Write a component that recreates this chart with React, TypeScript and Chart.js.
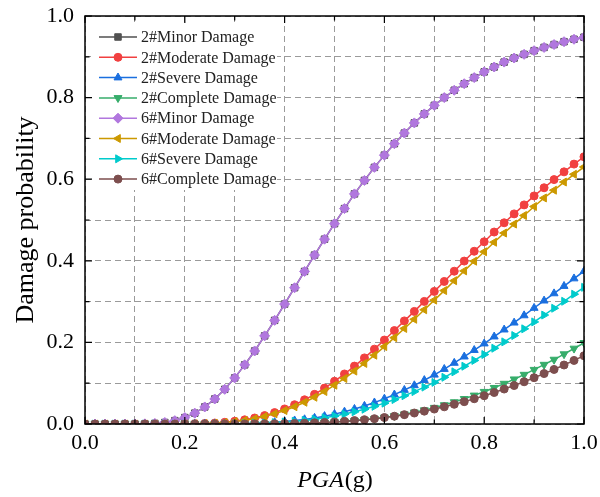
import React, { useEffect, useRef } from "react";
import { Chart, registerables } from "chart.js";
import { drawPoint } from "chart.js/helpers";

Chart.register(...registerables);

const pga = [0, 0.02, 0.04, 0.06, 0.08, 0.1, 0.12, 0.14, 0.16, 0.18, 0.2, 0.22, 0.24, 0.26, 0.28, 0.3, 0.32, 0.34, 0.36, 0.38, 0.4, 0.42, 0.44, 0.46, 0.48, 0.5, 0.52, 0.54, 0.56, 0.58, 0.6, 0.62, 0.64, 0.66, 0.68, 0.7, 0.72, 0.74, 0.76, 0.78, 0.8, 0.82, 0.84, 0.86, 0.88, 0.9, 0.92, 0.94, 0.96, 0.98, 1.0];

const minor2 = [0, 0, 0, 0, 0, 0.0001, 0.0004, 0.0014, 0.0037, 0.0082, 0.0157, 0.0266, 0.0418, 0.0613, 0.085, 0.113, 0.145, 0.179, 0.216, 0.254, 0.294, 0.334, 0.374, 0.414, 0.453, 0.491, 0.528, 0.564, 0.597, 0.629, 0.659, 0.687, 0.713, 0.738, 0.76, 0.781, 0.8, 0.818, 0.834, 0.849, 0.863, 0.875, 0.887, 0.897, 0.906, 0.915, 0.923, 0.93, 0.937, 0.943, 0.948];
const moderate2 = [0, 0, 0, 0, 0, 0, 0, 0, 0, 0.0001, 0.0003, 0.0007, 0.0013, 0.0024, 0.0041, 0.0067, 0.0102, 0.0147, 0.0206, 0.0279, 0.0369, 0.0472, 0.0593, 0.0727, 0.088, 0.1047, 0.1226, 0.1419, 0.162, 0.1835, 0.2058, 0.229, 0.2527, 0.276, 0.3005, 0.325, 0.3494, 0.3745, 0.3993, 0.4234, 0.4467, 0.4705, 0.4932, 0.515, 0.537, 0.559, 0.579, 0.599, 0.618, 0.637, 0.655];
const severe2 = [0, 0, 0, 0, 0, 0, 0, 0, 0, 0, 0, 0, 0.0001, 0.0002, 0.0004, 0.0007, 0.0012, 0.0019, 0.0029, 0.0043, 0.0061, 0.0084, 0.0113, 0.0148, 0.0191, 0.0242, 0.03, 0.0367, 0.0442, 0.0525, 0.0619, 0.072, 0.0832, 0.0946, 0.1073, 0.1206, 0.1346, 0.1496, 0.165, 0.181, 0.197, 0.2141, 0.2312, 0.2482, 0.266, 0.2843, 0.3022, 0.3199, 0.338, 0.3565, 0.3745];
const complete2 = [0, 0, 0, 0, 0, 0, 0, 0, 0, 0, 0, 0, 0, 0, 0, 0, 0.0001, 0.0002, 0.0003, 0.0005, 0.0008, 0.0012, 0.0017, 0.0024, 0.0034, 0.0046, 0.0061, 0.008, 0.0103, 0.0129, 0.0161, 0.0198, 0.024, 0.0287, 0.034, 0.04, 0.0465, 0.0538, 0.0617, 0.0701, 0.0791, 0.0888, 0.099, 0.1097, 0.121, 0.1331, 0.1455, 0.158, 0.1713, 0.1851, 0.199];
const minor6 = [0, 0, 0, 0, 0, 0.0001, 0.0004, 0.0014, 0.0037, 0.0082, 0.0157, 0.0266, 0.0418, 0.0613, 0.085, 0.113, 0.145, 0.179, 0.216, 0.254, 0.294, 0.334, 0.374, 0.414, 0.453, 0.491, 0.528, 0.564, 0.597, 0.629, 0.659, 0.687, 0.713, 0.738, 0.76, 0.781, 0.8, 0.818, 0.834, 0.849, 0.863, 0.875, 0.887, 0.897, 0.906, 0.915, 0.923, 0.93, 0.937, 0.943, 0.948];
const moderate6 = [0, 0, 0, 0, 0, 0, 0, 0, 0, 0.0001, 0.0003, 0.0006, 0.0011, 0.0021, 0.0036, 0.0059, 0.009, 0.013, 0.0183, 0.0249, 0.033, 0.0423, 0.0533, 0.0656, 0.0796, 0.0951, 0.1116, 0.1297, 0.1485, 0.1686, 0.1897, 0.2116, 0.2342, 0.2566, 0.28, 0.3036, 0.327, 0.3512, 0.3753, 0.399, 0.422, 0.4455, 0.468, 0.49, 0.511, 0.533, 0.554, 0.573, 0.593, 0.612, 0.63];
const severe6 = [0, 0, 0, 0, 0, 0, 0, 0, 0, 0, 0, 0, 0, 0.0002, 0.0003, 0.0005, 0.0009, 0.0015, 0.0022, 0.0033, 0.0048, 0.0066, 0.009, 0.0118, 0.0153, 0.0195, 0.0243, 0.0299, 0.0362, 0.0433, 0.0511, 0.0599, 0.0694, 0.0794, 0.0904, 0.102, 0.1145, 0.1278, 0.1416, 0.1558, 0.1703, 0.1857, 0.2013, 0.2168, 0.2333, 0.2502, 0.267, 0.2837, 0.3008, 0.3181, 0.335];
const complete6 = [0, 0, 0, 0, 0, 0, 0, 0, 0, 0, 0, 0, 0, 0, 0, 0.0001, 0.0002, 0.0003, 0.0004, 0.0007, 0.001, 0.0015, 0.0021, 0.0029, 0.0039, 0.0051, 0.0066, 0.0084, 0.0105, 0.013, 0.0159, 0.0191, 0.0229, 0.0269, 0.0315, 0.0366, 0.0421, 0.0483, 0.0548, 0.0619, 0.0693, 0.0772, 0.0857, 0.0943, 0.1035, 0.1135, 0.1236, 0.1337, 0.1446, 0.1558, 0.1673];

const seriesNames = [
  "2#Minor Damage",
  "2#Moderate Damage",
  "2#Severe Damage",
  "2#Complete Damage",
  "6#Minor Damage",
  "6#Moderate Damage",
  "6#Severe Damage",
  "6#Complete Damage",
];
const seriesValues = [minor2, moderate2, severe2, complete2, minor6, moderate6, severe6, complete6];
const seriesColors = ["#515151", "#F14040", "#1A6FDF", "#37AD6B", "#B177DE", "#CC9900", "#00CBCC", "#7D4E4E"];
const seriesStyles = ["rect", "circle", "triangle", "triangle", "rectRot", "triangle", "triangle", "circle"];
const seriesRotations = [0, 0, 0, 180, 0, 270, 90, 0];
const seriesRadii = [4.6, 4, 4.6, 4.6, 5, 4.6, 4.6, 4];

const xTicks = [0, 0.1, 0.2, 0.3, 0.4, 0.5, 0.6, 0.7, 0.8, 0.9, 1.0];
const yTicks = [0, 0.1, 0.2, 0.3, 0.4, 0.5, 0.6, 0.7, 0.8, 0.9, 1.0];

const SERIF = "'Liberation Serif', 'Times New Roman', serif";

const decorPlugin = {
  id: "decor",
  afterDatasetsDraw(chart: any) {
    const ctx = chart.ctx;
    const { left, right, top, bottom } = chart.chartArea;
    const xs = chart.scales.x;
    const ys = chart.scales.y;
    ctx.save();

    // legend background (white, no border)
    ctx.fillStyle = "#ffffff";
    ctx.fillRect(left + 6, top + 8, 186, 166);

    // legend entries
    ctx.font = `16px ${SERIF}`;
    ctx.textBaseline = "middle";
    ctx.textAlign = "left";
    chart.data.datasets.forEach((ds: any, i: number) => {
      const cy = top + 21 + i * 20.3;
      ctx.strokeStyle = ds.borderColor;
      ctx.lineWidth = 1.5;
      ctx.setLineDash([]);
      ctx.beginPath();
      ctx.moveTo(left + 14, cy);
      ctx.lineTo(left + 52, cy);
      ctx.stroke();
      ctx.fillStyle = ds.backgroundColor;
      ctx.strokeStyle = ds.borderColor;
      ctx.lineWidth = 1;
      drawPoint(ctx, { pointStyle: ds.pointStyle, rotation: ds.pointRotation, radius: ds.pointRadius, borderWidth: 1 }, left + 33, cy);
      ctx.fillStyle = "#222222";
      ctx.fillText(seriesNames[i], left + 56, cy + 1);
    });

    // frame
    ctx.strokeStyle = "#000000";
    ctx.lineWidth = 1.5;
    ctx.setLineDash([]);
    ctx.strokeRect(left, top, right - left, bottom - top);

    // inward ticks
    ctx.lineWidth = 1.2;
    xTicks.forEach((v, i) => {
      const px = xs.getPixelForValue(v);
      const len = i % 2 === 0 ? 7 : 4.5;
      ctx.beginPath();
      ctx.moveTo(px, bottom);
      ctx.lineTo(px, bottom - len);
      ctx.moveTo(px, top);
      ctx.lineTo(px, top + len);
      ctx.stroke();
    });
    yTicks.forEach((v, i) => {
      const py = ys.getPixelForValue(v);
      const len = i % 2 === 0 ? 7 : 4.5;
      ctx.beginPath();
      ctx.moveTo(left, py);
      ctx.lineTo(left + len, py);
      ctx.moveTo(right, py);
      ctx.lineTo(right - len, py);
      ctx.stroke();
    });

    // x title: italic PGA + (g)
    ctx.fillStyle = "#000000";
    ctx.textBaseline = "alphabetic";
    ctx.textAlign = "left";
    const italicFont = `italic 24px ${SERIF}`;
    const normalFont = `24px ${SERIF}`;
    ctx.font = italicFont;
    const w1 = ctx.measureText("PGA").width;
    ctx.font = normalFont;
    const w2 = ctx.measureText("(g)").width;
    const cx = (left + right) / 2;
    const startX = cx - (w1 + w2) / 2;
    ctx.font = italicFont;
    ctx.fillText("PGA", startX, 487);
    ctx.font = normalFont;
    ctx.fillText("(g)", startX + w1 + 1, 487);

    // y title
    ctx.save();
    ctx.translate(33, (top + bottom) / 2);
    ctx.rotate(-Math.PI / 2);
    ctx.textAlign = "center";
    ctx.font = `26px ${SERIF}`;
    ctx.fillText("Damage probability", 0, 0);
    ctx.restore();

    ctx.restore();
  },
};

export default function App() {
  const canvasRef = useRef<HTMLCanvasElement | null>(null);

  useEffect(() => {
    document.body.style.margin = "0";
    const canvas = canvasRef.current;
    if (!canvas) return;
    const datasets = seriesNames.map((name, i) => ({
      label: name,
      data: pga.map((x, k) => ({ x, y: seriesValues[i][k] })),
      borderColor: seriesColors[i],
      backgroundColor: seriesColors[i],
      borderWidth: 1.5,
      pointStyle: seriesStyles[i],
      pointRotation: seriesRotations[i],
      pointRadius: seriesRadii[i],
      pointBorderWidth: 1,
      pointBackgroundColor: seriesColors[i],
      pointBorderColor: seriesColors[i],
      tension: 0,
      order: 7 - i,
    }));

    const chart = new Chart(canvas, {
      type: "line",
      data: { datasets },
      options: {
        animation: false,
        responsive: false,
        maintainAspectRatio: false,
        layout: { padding: { top: 16, right: 16, left: 0, bottom: 0 } },
        plugins: { legend: { display: false }, tooltip: { enabled: false } },
        scales: {
          x: {
            type: "linear",
            min: 0,
            max: 1,
            afterFit: (s: any) => {
              s.height = 73;
              s.paddingLeft = 0;
              s.paddingRight = 0;
              s.paddingTop = 0;
              s.paddingBottom = 0;
            },
            ticks: {
              stepSize: 0.1,
              autoSkip: false,
              maxRotation: 0,
              padding: 6,
              color: "#000000",
              font: { family: SERIF, size: 22 },
              callback: (v: any) => (Math.round(Number(v) * 10) % 2 === 0 ? Number(v).toFixed(1) : ""),
            },
            grid: { color: "#9a9a9a", lineWidth: 1, drawTicks: false },
            border: { display: false, dash: [6, 4] },
          },
          y: {
            type: "linear",
            min: 0,
            max: 1,
            afterFit: (s: any) => {
              s.width = 85;
              s.paddingLeft = 0;
              s.paddingRight = 0;
              s.paddingTop = 0;
              s.paddingBottom = 0;
            },
            ticks: {
              stepSize: 0.1,
              autoSkip: false,
              padding: 11,
              color: "#000000",
              font: { family: SERIF, size: 22 },
              callback: (v: any) => (Math.round(Number(v) * 10) % 2 === 0 ? Number(v).toFixed(1) : ""),
            },
            grid: { color: "#9a9a9a", lineWidth: 1, drawTicks: false },
            border: { display: false, dash: [6, 4] },
          },
        },
      },
      plugins: [decorPlugin],
    });
    return () => chart.destroy();
  }, []);

  return (
    <div style={{ width: 600, height: 497, background: "#ffffff" }}>
      <canvas ref={canvasRef} width={600} height={497} style={{ display: "block" }} />
    </div>
  );
}
